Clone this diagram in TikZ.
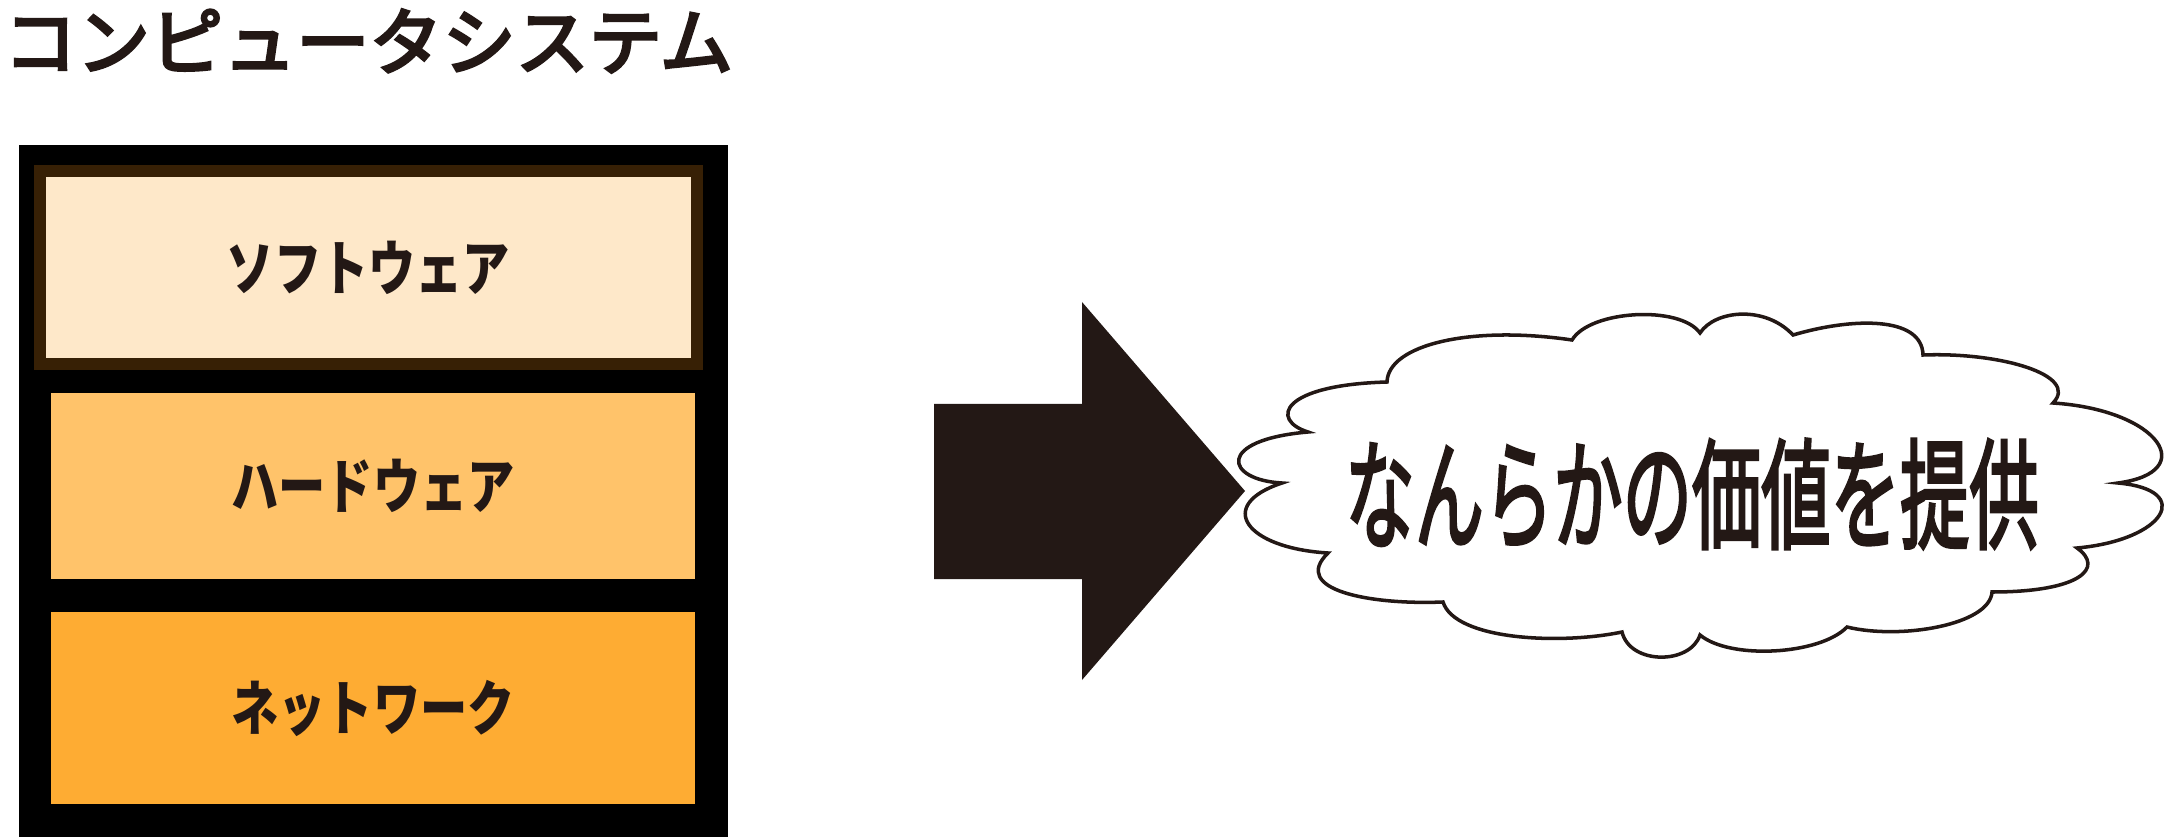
\documentclass[tikz,border=0pt]{standalone}
\usepackage{fontspec}
\usepackage{tikz}
\usetikzlibrary{positioning}
\newfontfamily\jpfont{Noto Sans CJK JP}
\newfontfamily\jpheavy[FakeBold=3]{Noto Sans CJK JP}
\newfontfamily\jptitle[FakeBold=4]{Noto Sans CJK JP}
\definecolor{ink}{RGB}{35,24,21}
\definecolor{frameB}{RGB}{55,32,5}
\definecolor{swFill}{RGB}{254,232,201}
\definecolor{hwFill}{RGB}{255,195,106}
\definecolor{nwFill}{RGB}{254,172,51}

\begin{document}
\begin{tikzpicture}[x=0.01cm, y=-0.01cm,
  layer/.style={rectangle, inner sep=0pt, minimum width=6.44cm, text=ink,
                font=\jpfont\bfseries\fontsize{17pt}{20pt}\selectfont},
  cloudline/.style={draw=ink, line width=1pt, fill=white}]
  \useasboundingbox (0,0) rectangle (2167,837);

  \node[anchor=west, inner sep=0pt, text=ink,
        font=\jptitle\fontsize{20.8pt}{25pt}\selectfont] (ttl) at (3,41) {コンピュータシステム};

  % system stack
  \fill[black] (19,145) rectangle (728,837);
  \node[layer, fill=swFill, draw=frameB, line width=0.12cm,
        minimum width=6.56cm, minimum height=1.93cm] (sw) at (368.5,267.5)
        {\scalebox{0.79}[1]{ソフトウェア}};
  \node[layer, fill=hwFill, minimum height=1.86cm] (hw) at (373,486)
        {\scalebox{0.79}[1]{ハードウェア}};
  \node[layer, fill=nwFill, minimum height=1.92cm] (nw) at (373,708)
        {\scalebox{0.79}[1]{ネットワーク}};

  % block arrow
  \fill[ink] (934,404) -- (1082,404) -- (1082,302) -- (1245,491)
    -- (1082,680) -- (1082,579) -- (934,579) -- cycle;

  % cloud
  \path[cloudline] (1282,483)
    .. controls (1225,480) and (1215,440) .. (1308,432)
    .. controls (1270,420) and (1280,385) .. (1387,382)
    .. controls (1388,345) and (1470,325) .. (1572,340)
    .. controls (1590,310) and (1680,305) .. (1700,333)
    .. controls (1715,310) and (1765,305) .. (1793,335)
    .. controls (1850,318) and (1922,315) .. (1923,355)
    .. controls (2000,352) and (2080,375) .. (2053,403)
    .. controls (2160,410) and (2200,472) .. (2118,483)
    .. controls (2195,490) and (2165,540) .. (2077,548)
    .. controls (2105,568) and (2080,592) .. (1992,592)
    .. controls (1990,625) and (1900,640) .. (1847,627)
    .. controls (1820,655) and (1730,660) .. (1700,635)
    .. controls (1690,665) and (1630,665) .. (1622,632)
    .. controls (1560,645) and (1455,640) .. (1443,602)
    .. controls (1370,605) and (1290,590) .. (1328,553)
    .. controls (1245,548) and (1215,505) .. (1282,483) -- cycle;
  \node[inner sep=0pt, text=ink, font=\jpheavy\fontsize{34pt}{40pt}\selectfont]
    (val) at (1692,494) {\scalebox{0.58}[1]{なんらかの価値を提供}};
\end{tikzpicture}
\end{document}
